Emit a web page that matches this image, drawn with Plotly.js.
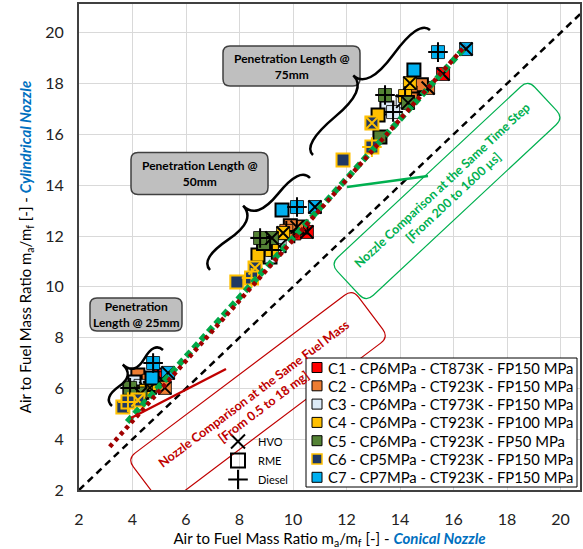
<!DOCTYPE html>
<html><head><meta charset="utf-8">
<script src="https://cdn.plot.ly/plotly-3.0.1.min.js"></script>
<style>body{margin:0;background:#fff}#chart{width:583px;height:549px}</style>
</head><body><div id="chart"></div>
<script>
// ---------------- DATA ----------------
const caseLabels = [
  'C1 - CP6MPa - CT873K - FP150 MPa',
  'C2 - CP6MPa - CT923K - FP150 MPa',
  'C3 - CP6MPa - CT973K - FP150 MPa',
  'C4 - CP6MPa - CT923K - FP100 MPa',
  'C5 - CP6MPa - CT923K - FP50 MPa',
  'C6 - CP5MPa - CT923K - FP150 MPa',
  'C7 - CP7MPa - CT923K - FP150 MPa'
];
const fuelLabels = ['HVO', 'RME', 'Diesel'];
const penetrationLabels = ['Penetration<br>Length @ 25mm', 'Penetration Length @<br>50mm', 'Penetration Length @<br>75mm'];
// point order in each case: 25mm [HVO, RME, Diesel], 50mm [HVO, RME, Diesel], 75mm [HVO, RME, Diesel]
const c1Conical     = [5.10, 5.03, 4.95, 10.52, 10.30, 10.05, 15.61, 14.65, 14.45];
const c1Cylindrical = [6.33, 6.53, 6.40, 12.16, 12.35, 12.10, 18.38, 17.85, 17.55];
const c2Conical     = [5.21, 4.20, 4.60, 10.15, 9.90, 9.75, 15.05, 14.80, 14.40];
const c2Cylindrical = [6.02, 6.53, 6.30, 12.35, 12.40, 12.20, 17.83, 17.95, 17.65];
const c3Conical     = [4.50, 4.09, 4.30, 9.50, 9.14, 9.30, 14.10, 13.51, 13.74];
const c3Cylindrical = [6.00, 6.25, 6.10, 11.60, 11.17, 11.45, 17.30, 17.04, 16.88];
const c4Conical     = [4.65, 4.35, 4.50, 9.63, 8.69, 9.21, 14.37, 13.18, 14.19];
const c4Cylindrical = [6.02, 5.85, 5.90, 12.12, 11.25, 11.45, 18.02, 16.76, 17.51];
const c5Conical     = [4.30, 3.90, 3.91, 9.21, 8.90, 8.77, 14.30, 13.25, 13.44];
const c5Cylindrical = [5.80, 5.85, 6.02, 11.92, 11.70, 11.92, 17.24, 15.90, 17.55];
const c6Conical     = [4.20, 3.64, 3.83, 8.58, 7.90, 8.45, 12.95, 11.87, 12.95];
const c6Cylindrical = [5.54, 5.27, 5.46, 10.74, 10.19, 10.35, 16.45, 14.99, 15.50];
const c7Conical     = [5.33, 4.73, 4.77, 10.82, 9.59, 10.15, 16.47, 14.52, 15.42];
const c7Cylindrical = [6.61, 6.41, 7.00, 13.14, 13.02, 13.14, 19.36, 18.54, 19.24];
// trend lines (end points)
const fuelMassTrendConical = [3.15, 16.45];
const fuelMassTrendCylindrical = [3.70, 19.50];
const timeStepTrendConical = [3.80, 16.45];
const timeStepTrendCylindrical = [4.68, 19.45];
const parityLine = [2, 22];
const axisTicks = [2, 4, 6, 8, 10, 12, 14, 16, 18, 20];

// ---------------- STYLE ----------------
const caseFill = ['#FF0000', '#ED7D31', '#DDEBF7', '#FFC000', '#548235', '#1F3864', '#00B0F0'];
const caseEdge = ['#000', '#000', '#000', '#000', '#000', '#FFC000', '#000'];
const overlayColor = ['#000', '#000', '#000', '#000', '#000', '#FFC000', '#000'];

const W = 583, H = 549, ML = 79, MR = 3, MT = 4, MB = 59;
const PXX = 26.75, PXY = 25.4;
const xr = [2, 2 + (W - ML - MR) / PXX];
const yr = [2, 2 + (H - MT - MB) / PXY];
const X = px => xr[0] + (px - ML) / PXX;
const Y = py => yr[0] + (H - MB - py) / PXY;
const FONT = 'Lato, Carlito, "Open Sans", sans-serif';

const conical = [c1Conical, c2Conical, c3Conical, c4Conical, c5Conical, c6Conical, c7Conical];
const cylindrical = [c1Cylindrical, c2Cylindrical, c3Cylindrical, c4Cylindrical, c5Cylindrical, c6Cylindrical, c7Cylindrical];

const traces = [];
caseLabels.forEach((lab, i) => {
  const fuelOf = conical[i].map((_, k) => fuelLabels[k % 3]);
  traces.push({
    type: 'scatter', mode: 'markers', name: lab, showlegend: false,
    x: conical[i], y: cylindrical[i], text: fuelOf, hoverinfo: 'x+y+text+name',
    marker: {symbol: 'square', size: 13, color: caseFill[i],
      line: {color: caseEdge[i], width: fuelOf.map(f => i === 5 ? 2 : (f === 'RME' ? 2 : 0.8))}}
  });
  ['HVO', 'Diesel'].forEach(f => {
    const idx = conical[i].map((_, k) => k).filter(k => fuelOf[k] === f);
    traces.push({
      type: 'scatter', mode: 'markers', showlegend: false, hoverinfo: 'skip',
      x: idx.map(k => conical[i][k]), y: idx.map(k => cylindrical[i][k]),
      marker: {symbol: f === 'HVO' ? 'x-thin-open' : 'cross-thin-open', size: f === 'HVO' ? 13 : 14,
        color: overlayColor[i], line: {color: overlayColor[i], width: 2}}
    });
  });
});
// parity line
traces.push({type: 'scatter', mode: 'lines', showlegend: false, hoverinfo: 'skip',
  x: parityLine, y: parityLine, line: {color: '#000', width: 2.5, dash: '7px,5px'}});
// trend lines
traces.push({type: 'scatter', mode: 'lines', showlegend: false, hoverinfo: 'skip',
  x: timeStepTrendConical, y: timeStepTrendCylindrical, line: {color: '#00A848', width: 6, dash: '7px,4px'}});
traces.push({type: 'scatter', mode: 'lines', showlegend: false, hoverinfo: 'skip',
  x: fuelMassTrendConical, y: fuelMassTrendCylindrical, line: {color: '#A00000', width: 4.5, dash: '4px,4px'}});
// fuel legend (legend2)
fuelLabels.forEach(f => {
  traces.push({type: 'scatter', mode: 'markers', name: f, legend: 'legend2', showlegend: true,
    x: [null], y: [null],
    marker: {symbol: f === 'HVO' ? 'x-thin-open' : (f === 'RME' ? 'square-open' : 'cross-thin-open'),
      size: 14, color: '#000', line: {color: '#000', width: 2}}});
});

// ---------------- DECORATION ----------------
function ptsToPath(cmds) {
  return cmds.map(c => c[0] + c.slice(1).map((p, j) => j % 2 === 0 ? X(p) : Y(p)).join(',')).join(' ');
}
function roundRect(cx, cy, w, h, r, ang) {
  const a = ang * Math.PI / 180, ca = Math.cos(a), sa = Math.sin(a);
  const t = (lx, ly) => [cx + lx * ca - ly * sa, cy + lx * sa + ly * ca];
  const hw = w / 2, hh = h / 2;
  const c = [];
  c.push(['M', ...t(-hw + r, -hh)]);
  c.push(['L', ...t(hw - r, -hh)]);
  c.push(['Q', ...t(hw, -hh), ...t(hw, -hh + r)]);
  c.push(['L', ...t(hw, hh - r)]);
  c.push(['Q', ...t(hw, hh), ...t(hw - r, hh)]);
  c.push(['L', ...t(-hw + r, hh)]);
  c.push(['Q', ...t(-hw, hh), ...t(-hw, hh - r)]);
  c.push(['L', ...t(-hw, -hh + r)]);
  c.push(['Q', ...t(-hw, -hh), ...t(-hw + r, -hh)]);
  return ptsToPath(c) + ' Z';
}
function brace(x1, y1, x2, y2, w, q) {
  let dx = x1 - x2, dy = y1 - y2; const len = Math.hypot(dx, dy); dx /= len; dy /= len;
  const qx1 = x1 + q * w * dy, qy1 = y1 - q * w * dx;
  const qx2 = (x1 - .25 * len * dx) + (1 - q) * w * dy, qy2 = (y1 - .25 * len * dy) - (1 - q) * w * dx;
  const tx1 = (x1 - .5 * len * dx) + w * dy, ty1 = (y1 - .5 * len * dy) - w * dx;
  const qx3 = x2 + q * w * dy, qy3 = y2 - q * w * dx;
  const qx4 = (x1 - .75 * len * dx) + (1 - q) * w * dy, qy4 = (y1 - .75 * len * dy) - (1 - q) * w * dx;
  return ptsToPath([['M', x1, y1], ['Q', qx1, qy1, qx2, qy2], ['T', tx1, ty1],
    ['M', x2, y2], ['Q', qx3, qy3, qx4, qy4], ['T', tx1, ty1]]);
}

const shapes = [];
const annotations = [];
// penetration boxes
const penBoxes = [[136, 314.5, 92, 33], [199.5, 173.5, 137, 42], [291.5, 66, 137, 40]];
penBoxes.forEach((b, i) => {
  shapes.push({type: 'path', xref: 'x', yref: 'y', path: roundRect(b[0], b[1], b[2], b[3], 7, 0),
    fillcolor: '#BFBFBF', line: {color: '#404040', width: 1.5}, layer: 'above'});
  annotations.push({xref: 'x', yref: 'y', x: X(b[0]), y: Y(b[1]), text: '<b>' + penetrationLabels[i] + '</b>',
    showarrow: false, font: {family: FONT, size: 12, color: '#000'}, align: 'center'});
});
// braces
[[163, 350, 112, 406, 20], [310, 178, 210, 270, 25], [430, 30, 313, 155, 25]].forEach(b => {
  shapes.push({type: 'path', xref: 'x', yref: 'y', path: brace(b[0], b[1], b[2], b[3], b[4], 0.6),
    line: {color: '#000', width: 2.5}, layer: 'above'});
});
// red comparison box
shapes.push({type: 'line', xref: 'x', yref: 'y', x0: X(131), y0: Y(418), x1: X(226), y1: Y(369),
  line: {color: '#C00000', width: 2.5}, layer: 'above'});
shapes.push({type: 'path', xref: 'x', yref: 'y', path: roundRect(258, 398, 282, 60, 10, -37),
  fillcolor: 'rgba(255,255,255,0)', line: {color: '#C00000', width: 1.2}, layer: 'above'});
annotations.push({xref: 'x', yref: 'y', x: X(258), y: Y(400), textangle: -37, showarrow: false,
  text: '<b>Nozzle Comparison at the Same Fuel Mass</b><br><b>[From 0.5 to 18 mg]</b>',
  font: {family: FONT, size: 12.5, color: '#C00000'}, align: 'center'});
// green comparison box
shapes.push({type: 'line', xref: 'x', yref: 'y', x0: X(347), y0: Y(187), x1: X(428), y1: Y(176),
  line: {color: '#00B050', width: 2.5}, layer: 'above'});
shapes.push({type: 'path', xref: 'x', yref: 'y', path: roundRect(447, 191, 270, 52, 10, -43),
  fillcolor: 'rgba(255,255,255,0)', line: {color: '#00B050', width: 1.2}, layer: 'above'});
annotations.push({xref: 'x', yref: 'y', x: X(447), y: Y(191), textangle: -43, showarrow: false,
  text: '<b>Nozzle Comparison at the Same Time Step</b><br><b>[From 200 to 1600 µs]</b>',
  font: {family: FONT, size: 12.5, color: '#00B050'}, align: 'center'});
// case legend box
shapes.push({type: 'rect', xref: 'x', yref: 'y', x0: X(306), y0: Y(358), x1: X(577), y1: Y(487),
  fillcolor: '#fff', line: {color: '#000', width: 1}, layer: 'above'});
caseLabels.forEach((lab, i) => {
  const cy = 367.5 + i * 18.3;
  shapes.push({type: 'rect', xref: 'x', yref: 'y', x0: X(312), y0: Y(cy - 5), x1: X(322), y1: Y(cy + 5),
    fillcolor: caseFill[i], line: {color: i === 5 ? '#FFC000' : '#000', width: i === 5 ? 1.5 : 1}, layer: 'above'});
  annotations.push({xref: 'x', yref: 'y', x: X(326), y: Y(cy), xanchor: 'left', yanchor: 'middle',
    text: lab, showarrow: false, font: {family: FONT, size: 14.8, color: '#000'}});
});

const layout = {
  width: W, height: H,
  margin: {l: ML, r: MR, t: MT, b: MB},
  paper_bgcolor: '#fff', plot_bgcolor: '#fff',
  font: {family: FONT, color: '#000'},
  xaxis: {range: xr, tickvals: axisTicks, showgrid: true, gridcolor: '#D9D9D9', gridwidth: 1,
    zeroline: false, showline: true, linecolor: '#404040', linewidth: 2, mirror: true,
    ticks: '', ticklabelstandoff: 14, tickfont: {family: FONT, size: 16, color: '#222'},
    title: {text: 'Air to Fuel Mass Ratio m<sub>a</sub>/m<sub>f</sub> [-] - <span style="color:#0070C0"><b><i>Conical Nozzle</i></b></span>',
      font: {family: FONT, size: 15, color: '#000'}, standoff: 6}},
  yaxis: {range: yr, tickvals: axisTicks, showgrid: true, gridcolor: '#D9D9D9', gridwidth: 1,
    zeroline: false, showline: true, linecolor: '#404040', linewidth: 2, mirror: true,
    ticks: '', ticklabelstandoff: 10, tickfont: {family: FONT, size: 16, color: '#222'},
    title: {text: 'Air to Fuel Mass Ratio m<sub>a</sub>/m<sub>f</sub> [-] - <span style="color:#0070C0"><b><i>Cylindrical Nozzle</i></b></span>',
      font: {family: FONT, size: 15, color: '#000'}, standoff: 10}},
  showlegend: true,
  legend2: {x: (218 - ML) / (W - ML - MR), y: (H - MB - 427) / (H - MT - MB), xanchor: 'left', yanchor: 'top',
    bgcolor: 'rgba(0,0,0,0)', borderwidth: 0, tracegroupgap: 0,
    font: {family: FONT, size: 11, color: '#000'}},
  shapes: shapes, annotations: annotations
};
Plotly.newPlot('chart', traces, layout, {displayModeBar: false, staticPlot: true});
</script>
</body></html>
